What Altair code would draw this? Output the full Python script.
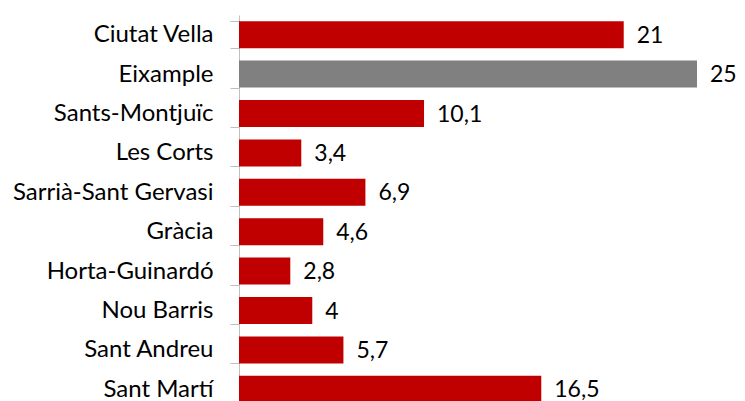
import altair as alt
import pandas as pd

districts = ["Ciutat Vella", "Eixample", "Sants-Montjuïc", "Les Corts",
             "Sarrià-Sant Gervasi", "Gràcia", "Horta-Guinardó", "Nou Barris",
             "Sant Andreu", "Sant Martí"]
values = [21, 25, 10.1, 3.4, 6.9, 4.6, 2.8, 4, 5.7, 16.5]
labels = ["21", "25", "10,1", "3,4", "6,9", "4,6", "2,8", "4", "5,7", "16,5"]
highlight = ["no", "yes", "no", "no", "no", "no", "no", "no", "no", "no"]

df = pd.DataFrame({"district": districts, "value": values,
                   "label": labels, "hl": highlight})

FONT = "Lato"

y = alt.Y("district:N", sort=districts, title=None,
          scale=alt.Scale(range=[0, 394], paddingInner=0.315, paddingOuter=0.1575),
          axis=alt.Axis(domainColor="#bfbfbf", tickColor="#bfbfbf", tickSize=9,
                        tickBand="extent", labelPadding=17, labelFont=FONT,
                        labelFontSize=24, labelColor="#000000", labelLimit=400,
                        domainWidth=1, tickWidth=1))
x = alt.X("value:Q", scale=alt.Scale(domain=[0, 25]), axis=None)

bars = alt.Chart(df).mark_bar().encode(
    y=y, x=x,
    color=alt.Color("hl:N", scale=alt.Scale(domain=["no", "yes"],
                                            range=["#c00000", "#808080"]),
                    legend=None),
)
text = alt.Chart(df).mark_text(align="left", baseline="middle", dx=13, dy=1,
                               font=FONT, fontSize=23, color="#000000").encode(
    y=alt.Y("district:N", sort=districts), x=x, text="label:N")

chart = (bars + text).properties(
    width=458, height=386,
    autosize=alt.AutoSizeParams(type="none"),
    padding={"left": 231, "top": 7, "right": 40, "bottom": 0},
).configure_view(stroke=None)

chart.save("out.html", embed_options={"renderer": "svg", "actions": False})
